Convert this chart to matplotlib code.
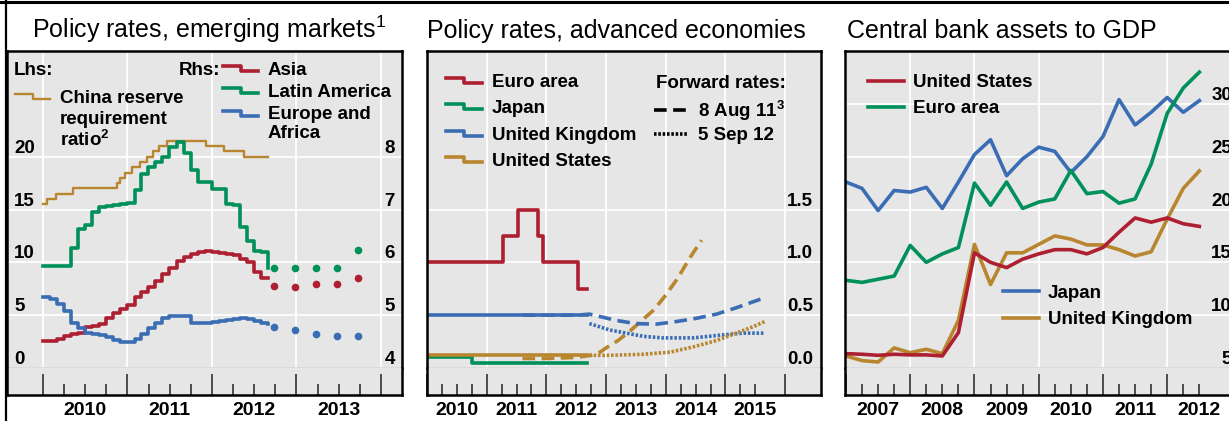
import numpy as np
import pandas as pd
import matplotlib
matplotlib.use('Agg')
import matplotlib.pyplot as plt
import matplotlib.transforms as mtransforms
from matplotlib.lines import Line2D
from matplotlib.ticker import FixedFormatter

plt.rcParams['font.family'] = ['Liberation Sans', 'DejaVu Sans']
plt.rcParams['mathtext.fontset'] = 'custom'
plt.rcParams['mathtext.rm'] = 'Liberation Sans'
plt.rcParams['mathtext.bf'] = 'Liberation Sans:bold'

W, H = 1229, 421
RED = '#AE1F31'
GREEN = '#00905A'
BLUE = '#3B6DB4'
TAN = '#B8862F'
BG = '#E6E6E6'
LW = 2.6


def dec(s):
    d = pd.Timestamp(s)
    return d.year + (d.dayofyear - 1) / 365.25


# ---- panel 1: policy rates, emerging markets ----
china_dates = ['2010-01-01', '2010-01-18', '2010-02-25', '2010-05-10', '2010-11-16',
               '2010-11-29', '2010-12-20', '2011-01-20', '2011-02-24', '2011-03-25',
               '2011-04-21', '2011-05-18', '2011-06-20', '2011-12-05', '2012-02-24',
               '2012-05-18', '2012-09-01']
china_rrr = [15.5, 16.0, 16.5, 17.0, 17.5, 18.0, 18.5, 19.0, 19.5, 20.0, 20.5, 21.0,
             21.5, 21.0, 20.5, 20.0, 20.0]

em_months = pd.date_range('2010-01-01', '2012-09-01', freq='MS')
asia = [4.51, 4.51, 4.55, 4.61, 4.65, 4.67, 4.77, 4.80, 4.83, 4.95, 5.05, 5.12,
        5.20, 5.34, 5.43, 5.53, 5.65, 5.78, 5.90, 6.03, 6.10, 6.16, 6.20, 6.21,
        6.19, 6.17, 6.16, 6.13, 6.07, 6.00, 5.82, 5.71, 5.71]
latam = [5.94, 5.94, 5.94, 5.94, 6.28, 6.63, 6.70, 6.95, 7.04, 7.06, 7.08, 7.10,
         7.12, 7.36, 7.68, 7.80, 7.90, 8.00, 8.18, 8.27, 8.06, 7.74, 7.52, 7.52,
         7.39, 7.39, 7.11, 7.08, 6.66, 6.41, 6.22, 6.20, 5.90]
europe = [5.34, 5.30, 5.22, 5.08, 4.85, 4.75, 4.67, 4.64, 4.62, 4.58, 4.53, 4.49,
          4.50, 4.55, 4.65, 4.75, 4.85, 4.95, 4.99, 4.99, 4.99, 4.86, 4.86, 4.86,
          4.88, 4.89, 4.90, 4.92, 4.95, 4.93, 4.89, 4.85, 4.84]

fc_dates = ['2012-09-25', '2012-12-25', '2013-03-25', '2013-06-25', '2013-09-25']
fc_asia = [5.56, 5.53, 5.59, 5.59, 5.71]
fc_latam = [5.89, 5.89, 5.89, 5.89, 6.24]
fc_europe = [4.77, 4.72, 4.64, 4.60, 4.61]

# ---- panel 2: policy rates, advanced economies ----
euro_dates = ['2010-01-01', '2011-04-13', '2011-07-13', '2011-11-09', '2011-12-14',
              '2012-07-11', '2012-09-05']
euro_rate = [1.0, 1.25, 1.5, 1.25, 1.0, 0.75, 0.75]
japan_dates = ['2010-01-01', '2010-10-05', '2012-09-05']
japan_rate = [0.1, 0.05, 0.05]
uk_dates = ['2010-01-01', '2012-09-05']
uk_rate = [0.5, 0.5]
us_dates = ['2010-01-01', '2012-09-05']
us_rate = [0.125, 0.125]

fwd11_us_x = [2011.60, 2012.0, 2012.5, 2012.75, 2012.9, 2013.0, 2013.2, 2013.4,
              2013.6, 2013.8, 2014.0, 2014.2, 2014.4, 2014.6]
fwd11_us = [0.09, 0.09, 0.10, 0.12, 0.15, 0.19, 0.26, 0.35, 0.45, 0.55, 0.69, 0.85,
            1.04, 1.21]
fwd11_uk_x = [2011.60, 2012.5, 2012.72, 2012.95, 2013.17, 2013.5, 2013.84, 2014.18,
              2014.51, 2014.85, 2015.18, 2015.63]
fwd11_uk = [0.50, 0.50, 0.51, 0.48, 0.45, 0.42, 0.415, 0.44, 0.47, 0.51, 0.57, 0.66]
fwd12_uk_x = [2012.72, 2013.06, 2013.34, 2013.62, 2013.95, 2014.46, 2014.90, 2015.29,
              2015.66]
fwd12_uk = [0.42, 0.36, 0.33, 0.30, 0.285, 0.285, 0.31, 0.33, 0.33]
fwd12_us_x = [2012.72, 2013.06, 2013.62, 2014.07, 2014.46, 2014.85, 2015.18, 2015.46,
              2015.66]
fwd12_us = [0.12, 0.12, 0.13, 0.15, 0.20, 0.26, 0.33, 0.39, 0.44]

# ---- panel 3: central bank assets to GDP (quarterly, 2007 Q1 - 2012 Q3) ----
cb_quarters = np.arange(2007.0, 2012.51, 0.25)
cb_us = [6.36, 6.30, 6.20, 6.30, 6.24, 6.24, 6.14, 8.35, 15.9, 15.0, 14.5, 15.3,
         15.8, 16.2, 16.2, 15.8, 16.4, 17.85, 19.2, 18.8, 19.2, 18.65, 18.4]
cb_euro = [13.3, 13.1, 13.4, 13.7, 16.6, 15.0, 15.8, 16.4, 22.5, 20.4, 22.6, 20.1,
           20.7, 21.0, 23.7, 21.5, 21.7, 20.6, 21.0, 24.3, 29.1, 31.5, 33.0]
cb_japan = [22.6, 22.0, 19.9, 21.8, 21.65, 22.1, 20.1, 22.6, 25.2, 26.6, 23.2, 24.8,
            25.9, 25.5, 23.5, 25.0, 26.9, 30.4, 28.0, 29.2, 30.6, 29.2, 30.3]
cb_uk = [6.14, 5.70, 5.57, 6.90, 6.45, 6.77, 6.36, 9.5, 16.7, 12.9, 15.9, 15.9,
         16.7, 17.5, 17.2, 16.65, 16.65, 16.2, 15.6, 16.0, 19.1, 22.0, 23.65]


def fx(x):
    return x / W


def fy(y):
    return 1 - y / H


def box(x0, y0, x1, y1):
    return [x0 / W, 1 - y1 / H, (x1 - x0) / W, (y1 - y0) / H]


fig = plt.figure(figsize=(W / 100, H / 100), dpi=100)
TOP, MID, BOT = 51, 368, 395


def make_panel(x0, x1, xlim, first_year, last_minor):
    majors = list(range(int(np.ceil(xlim[0])), int(xlim[1]) + 1))
    minors = [q for q in np.arange(first_year + 0.25, last_minor + 0.01, 0.25) if q % 1 != 0]
    ax = fig.add_axes(box(x0, TOP, x1, MID))
    ax.set_facecolor(BG)
    ax.set_xlim(xlim)
    ax.set_xticks(majors)
    ax.tick_params(length=0, labelbottom=False, labelleft=False)
    ax.grid(True, color='white', lw=1.3)
    ax.set_axisbelow(True)
    for s in ['top', 'left', 'right']:
        ax.spines[s].set_linewidth(1.8)
    ax.spines['bottom'].set_color('#555555')
    ax.spines['bottom'].set_linewidth(1.0)

    band = fig.add_axes(box(x0, MID, x1, BOT))
    band.set_facecolor(BG)
    band.set_xlim(xlim)
    band.set_yticks([])
    band.spines['top'].set_visible(False)
    for s in ['bottom', 'left', 'right']:
        band.spines[s].set_linewidth(1.8)
    band.set_xticks(majors)
    band.set_xticklabels([])
    band.set_xticks(minors, minor=True)
    labels = [str(int(m)) if abs(m % 1 - 0.5) < 1e-6 else '' for m in minors]
    band.xaxis.set_minor_formatter(FixedFormatter(labels))
    band.tick_params(which='major', direction='in', length=15, width=1.1, color='#222222')
    band.tick_params(which='minor', direction='in', length=8, width=1.1, color='#222222',
                     pad=5, labelsize=14)
    for t in band.get_xticklabels(minor=True):
        t.set_fontweight('bold')
    return ax


def ylabels(ax, ticks, fmt, xpos, ha):
    tr = mtransforms.blended_transform_factory(ax.transAxes, ax.transData)
    for v in ticks:
        ax.text(xpos, v, fmt.format(v), transform=tr, ha=ha, va='bottom',
                fontsize=13.5, fontweight='bold')


def step_handle(x0, x1, base, color, lw=LW):
    xm = (x0 + x1) / 2
    fig.add_artist(Line2D([fx(x0), fx(xm), fx(xm), fx(x1)],
                          [fy(base - 9), fy(base - 9), fy(base - 4), fy(base - 4)],
                          color=color, lw=lw, transform=fig.transFigure))


def label(x, base, s, ha='left'):
    fig.text(fx(x), fy(base), s, ha=ha, va='baseline', fontsize=13.5, fontweight='bold')


# ---------- panel 1 ----------
ax1 = make_panel(7, 402, (2009.574, 2014.249), 2010, 2013.75)
ax1.set_ylim(0, 30)
ax1.set_yticks([0, 5, 10, 15, 20])
ax1r = ax1.twinx()
ax1r.set_ylim(4, 10)
ax1r.set_yticks([])
for s in ax1r.spines.values():
    s.set_visible(False)

ax1.plot([dec(d) for d in china_dates], china_rrr, drawstyle='steps-post', color=TAN, lw=1.7)
mx = [dec(d) for d in em_months]
ax1r.plot(mx, latam, drawstyle='steps-post', color=GREEN, lw=LW)
ax1r.plot(mx, asia, drawstyle='steps-post', color=RED, lw=LW)
ax1r.plot(mx, europe, drawstyle='steps-post', color=BLUE, lw=LW)
fcx = [dec(d) for d in fc_dates]
ax1r.plot(fcx, fc_latam, 'o', color=GREEN, ms=5.5, mew=0)
ax1r.plot(fcx, fc_asia, 'o', color=RED, ms=5.5, mew=0)
ax1r.plot(fcx, fc_europe, 'o', color=BLUE, ms=5.5, mew=0)

ylabels(ax1, [0, 5, 10, 15, 20], '{}', 0.018, 'left')
ylabels(ax1r, [4, 5, 6, 7, 8], '{}', 0.982, 'right')

label(14, 75, 'Lhs:')
label(220, 75, 'Rhs:', ha='right')
step_handle(15, 50, 103, TAN, lw=1.7)
label(60, 102.7, 'China reserve')
label(60, 124, 'requirement')
label(60, 146.5, r'ratio$^\mathbf{2}$')
step_handle(223, 258, 75, RED)
step_handle(223, 258, 97, GREEN)
step_handle(223, 258, 120, BLUE)
label(268, 75, 'Asia')
label(268, 97, 'Latin America')
label(268, 119, 'Europe and')
label(268, 138, 'Africa')

# ---------- panel 2 ----------
ax2 = make_panel(427, 821, (2010.0, 2016.6), 2010, 2015.5)
ax2.set_ylim(0, 3)
ax2.set_yticks([0, 0.5, 1.0, 1.5])
ax2.plot(fwd11_us_x, fwd11_us, color=TAN, lw=LW, dashes=(3.5, 1.8))
ax2.plot(fwd11_uk_x, fwd11_uk, color=BLUE, lw=LW, dashes=(3.5, 1.8))
ax2.plot(fwd12_uk_x, fwd12_uk, color=BLUE, lw=LW, dashes=(0.7, 0.5))
ax2.plot(fwd12_us_x, fwd12_us, color=TAN, lw=LW, dashes=(0.7, 0.5))
ax2.plot([dec(d) for d in euro_dates], euro_rate, drawstyle='steps-post', color=RED, lw=LW)
ax2.plot([dec(d) for d in japan_dates], japan_rate, drawstyle='steps-post', color=GREEN, lw=LW)
ax2.plot([dec(d) for d in uk_dates], uk_rate, drawstyle='steps-post', color=BLUE, lw=LW)
ax2.plot([dec(d) for d in us_dates], us_rate, drawstyle='steps-post', color=TAN, lw=LW)
ylabels(ax2, [0.0, 0.5, 1.0, 1.5], '{:.1f}', 0.98, 'right')

for base, name, c in [(87.3, 'Euro area', RED), (113.3, 'Japan', GREEN),
                      (140, 'United Kingdom', BLUE), (166, 'United States', TAN)]:
    step_handle(446, 482, base, c)
    label(492, base, name)
label(656, 88.3, 'Forward rates:')
label(698, 116.7, r'8 Aug 11$^\mathbf{3}$')
label(698, 139.5, '5 Sep 12')
fig.add_artist(Line2D([fx(654), fx(688)], [fy(109.5), fy(109.5)], color='black', lw=LW,
                      dashes=(3.5, 1.8), dash_capstyle='butt', transform=fig.transFigure))
fig.add_artist(Line2D([fx(654), fx(688)], [fy(133.5), fy(133.5)], color='black', lw=LW,
                      dashes=(0.7, 0.5), transform=fig.transFigure))

# ---------- panel 3 ----------
ax3 = make_panel(845, 1239, (2006.985, 2013.117), 2007, 2012.5)
ax3.set_ylim(5, 35)
ax3.set_yticks([5, 10, 15, 20, 25, 30])
ax3.plot(cb_quarters, cb_japan, color=BLUE, lw=LW)
ax3.plot(cb_quarters, cb_euro, color=GREEN, lw=LW)
ax3.plot(cb_quarters, cb_uk, color=TAN, lw=LW)
ax3.plot(cb_quarters, cb_us, color=RED, lw=LW)
ylabels(ax3, [5, 10, 15, 20, 25, 30], '{}', 0.982, 'right')

for x0, base, name, c in [(868, 87.3, 'United States', RED), (868, 113.3, 'Euro area', GREEN),
                          (1003, 297.7, 'Japan', BLUE), (1003, 324, 'United Kingdom', TAN)]:
    fig.add_artist(Line2D([fx(x0), fx(x0 + 36)], [fy(base - 6.5), fy(base - 6.5)], color=c,
                          lw=LW, transform=fig.transFigure))
    label(x0 + 45, base, name)

# ---------- titles and outer frame ----------
fig.text(fx(32), fy(38), r'Policy rates, emerging markets$^\mathrm{1}$', fontsize=18, va='baseline')
fig.text(fx(427), fy(38), 'Policy rates, advanced economies', fontsize=18, va='baseline')
fig.text(fx(847), fy(38), 'Central bank assets to GDP', fontsize=18, va='baseline')
fig.add_artist(Line2D([0, 1], [fy(1.5), fy(1.5)], color='black', lw=2.2,
                      transform=fig.transFigure))
fig.add_artist(Line2D([fx(6.5), fx(6.5)], [0, 1], color='black', lw=1.6,
                      transform=fig.transFigure))

fig.savefig('out.png', dpi=100)
